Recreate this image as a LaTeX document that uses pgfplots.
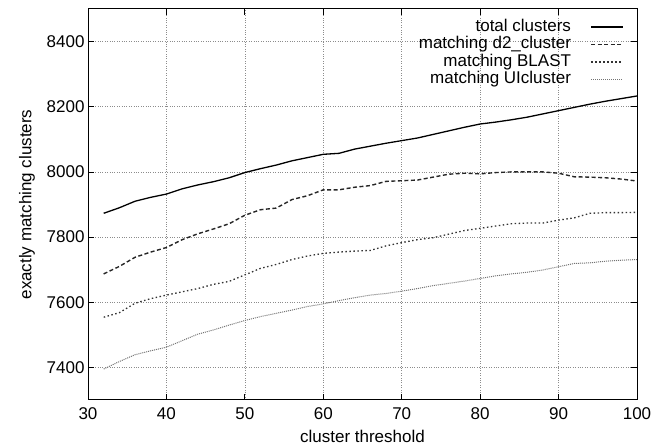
\documentclass[border=0pt]{standalone}
\usepackage{fontspec}
\setmainfont{Liberation Sans}
\usepackage{pgfplots}
\usepackage{pgfplotstable}
\pgfplotsset{compat=1.18}
\pgfplotstableread{
x total d2 blast ui
32 7873 7687 7554 7395
34 7890 7710 7568 7418
36 7910 7738 7597 7439
38 7922 7754 7611 7451
40 7932 7768 7622 7462
42 7948 7792 7632 7482
44 7960 7810 7642 7502
46 7970 7825 7655 7515
48 7982 7841 7664 7530
50 7998 7867 7684 7544
52 8010 7884 7704 7556
54 8021 7889 7716 7566
56 8034 7915 7731 7576
58 8044 7927 7742 7587
60 8054 7945 7750 7595
62 8057 7945 7754 7605
64 8070 7953 7757 7614
66 8079 7958 7759 7622
68 8088 7971 7773 7627
70 8096 7973 7783 7634
72 8104 7975 7792 7642
74 8115 7984 7798 7651
76 8126 7993 7809 7658
78 8137 7996 7820 7665
80 8147 7994 7827 7673
82 8153 7998 7834 7681
84 8160 8000 7841 7687
86 8168 8000 7843 7692
88 8178 8000 7843 7699
90 8188 7996 7852 7709
92 8198 7985 7859 7719
94 8208 7984 7873 7721
96 8217 7982 7875 7726
98 8225 7978 7875 7729
100 8233 7972 7876 7731
}\datatable
\begin{document}
\begin{tikzpicture}
\useasboundingbox (0,0) rectangle (668pt,446pt);
\begin{axis}[
  at={(88pt,46pt)}, anchor=south west,
  width=549pt, height=391pt, scale only axis,
  xmin=30, xmax=100, ymin=7300, ymax=8500,
  xtick={30,40,...,100}, ytick={7400,7600,...,8400},
  grid=major,
  major grid style={gray!90, line width=0.6pt, dash pattern=on 0.8pt off 1.6pt},
  tick align=inside, tick pos=both,
  major tick length=6pt,
  tick style={black, line width=0.8pt},
  axis line style={line width=1pt},
  font=\fontsize{17}{20}\selectfont,
  ticklabel style={font=\fontsize{17}{20}\selectfont},
  xticklabel style={yshift=-4pt},
  /pgf/number format/assume math mode=true,
  /pgf/number format/1000 sep={},
  xlabel={cluster threshold},
  ylabel={exactly matching clusters},
  xlabel style={at={(axis description cs:0.5,-0.092)}, anchor=center},
  ylabel style={at={(axis description cs:-0.111,0.5)}, anchor=center},
  legend plot pos=right,
  legend cell align=right,
  legend image code/.code={\path (0pt,0pt); \draw[#1] (19pt,0pt) -- (51pt,0pt);},
  legend style={draw=none, fill=none,
    at={(axis description cs:0.982,0.982)}, anchor=north east,
    font=\fontsize{17}{17}\selectfont,
    nodes={inner sep=0.5pt, text height=12.5pt, text depth=4pt},
    row sep=0pt, column sep=0pt},
]
\addplot[black, line width=1.3pt] table[x=x, y=total] {\datatable};
\addlegendentry{total clusters}
\addplot[black!85, line width=1.4pt, dash pattern=on 4pt off 2.5pt] table[x=x, y=d2] {\datatable};
\addlegendentry{matching d2\_cluster}
\addplot[black!80, line width=1.3pt, dash pattern=on 1.5pt off 2.5pt] table[x=x, y=blast] {\datatable};
\addlegendentry{matching BLAST}
\addplot[black!55, line width=1pt, dash pattern=on 1pt off 1pt] table[x=x, y=ui] {\datatable};
\addlegendentry{matching UIcluster}
\end{axis}
\end{tikzpicture}
\end{document}
